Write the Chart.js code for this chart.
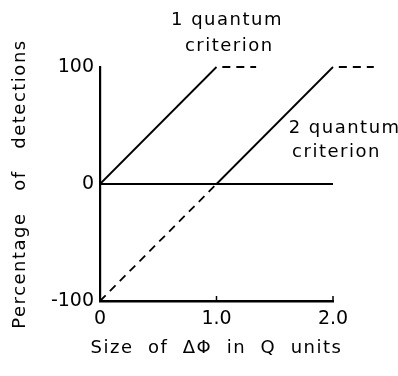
<!DOCTYPE html>
<html>
<head>
<meta charset="utf-8">
<script src="https://cdn.jsdelivr.net/npm/chart.js@4"></script>
<style>
  html, body { margin: 0; padding: 0; background: #fff; }
  #wrap { width: 398px; height: 376px; }
</style>
</head>
<body>
<div id="wrap"><canvas id="chart"></canvas></div>
<script>
// tick values and labels
const xTickValues = [0, 1, 2];
const xTickLabels = ["0", "1.0", "2.0"];
const yTickValues = [-100, 0, 100];
const yTickLabels = ["-100", "0", "100"];

// 1 quantum criterion
const oneRiseX = [0, 1.0];
const oneRiseY = [0, 100];
const onePlateauX = [1.05, 1.34];
const onePlateauY = [100, 100];

// 2 quantum criterion
const twoBelowX = [0, 1.0];
const twoBelowY = [-100, 0];
const twoRiseX = [1.0, 2.0];
const twoRiseY = [0, 100];
const twoPlateauX = [2.05, 2.35];
const twoPlateauY = [100, 100];

// zero line
const zeroX = [0, 2.0];
const zeroY = [0, 0];

// annotation text, anchored in data units
const notes = [
  { text: "1 quantum", x: 1.09, y: 140 },
  { text: "criterion", x: 1.11, y: 118 },
  { text: "2 quantum", x: 2.1, y: 48 },
  { text: "criterion", x: 2.03, y: 27 }
];

const xTitle = "Size  of  \u0394\u03A6  in  Q  units";
const yTitle = "Percentage   of   detections";

function pts(xs, ys) {
  return xs.map((x, i) => ({ x: x, y: ys[i] }));
}

function line(xs, ys, dashed, width) {
  return {
    data: pts(xs, ys),
    borderColor: "#000",
    borderWidth: width || 1.8,
    borderDash: dashed ? [8, 6] : [],
    pointRadius: 0,
    fill: false,
    clip: false,
    tension: 0
  };
}

const FONT = "'DejaVu Sans', sans-serif";

const textPlugin = {
  id: "textPlugin",
  afterDraw(chart) {
    const ctx = chart.ctx;
    const xs = chart.scales.x, ys = chart.scales.y;
    const area = chart.chartArea;
    ctx.save();
    ctx.fillStyle = "#000";
    ctx.strokeStyle = "#000";

    // inward tick marks on the x axis
    ctx.lineWidth = 1.5;
    xTickValues.forEach(v => {
      if (v === 0) return;
      const px = xs.getPixelForValue(v);
      ctx.beginPath();
      ctx.moveTo(px, area.bottom);
      ctx.lineTo(px, area.bottom - 5);
      ctx.stroke();
    });

    ctx.letterSpacing = "1.5px";
    ctx.font = "18px " + FONT;
    ctx.textAlign = "center";
    ctx.textBaseline = "middle";
    notes.forEach(n => {
      ctx.fillText(n.text, xs.getPixelForValue(n.x), ys.getPixelForValue(n.y));
    });

    ctx.letterSpacing = "1.5px";
    ctx.font = "18px " + FONT;
    ctx.fillText(xTitle, (area.left + area.right) / 2, area.bottom + 47);

    ctx.translate(20, (area.top + area.bottom) / 2);
    ctx.rotate(-Math.PI / 2);
    ctx.fillText(yTitle, 0, 0);
    ctx.restore();
  }
};

new Chart(document.getElementById("chart"), {
  type: "line",
  data: {
    datasets: [
      line(oneRiseX, oneRiseY, false),
      line(onePlateauX, onePlateauY, true),
      line(twoBelowX, twoBelowY, true),
      line(twoRiseX, twoRiseY, false),
      line(twoPlateauX, twoPlateauY, true),
      line(zeroX, zeroY, false, 2.2)
    ]
  },
  options: {
    responsive: true,
    maintainAspectRatio: false,
    animation: false,
    layout: { padding: { top: 67, right: 65, bottom: 0, left: 0 } },
    plugins: { legend: { display: false }, tooltip: { enabled: false } },
    scales: {
      x: {
        type: "linear",
        min: 0,
        max: 2,
        afterFit: s => { s.height = 75; },
        afterBuildTicks: s => { s.ticks = xTickValues.map(v => ({ value: v })); },
        grid: { display: false, drawTicks: false },
        border: { display: true, color: "#000", width: 2.5 },
        ticks: {
          color: "#000",
          padding: 7,
          maxRotation: 0,
          font: { family: FONT, size: 19 },
          callback: v => xTickLabels[xTickValues.indexOf(v)]
        }
      },
      y: {
        type: "linear",
        min: -100,
        max: 100,
        afterFit: s => { s.width = 100; },
        afterBuildTicks: s => { s.ticks = yTickValues.map(v => ({ value: v })); },
        grid: { display: false, drawTicks: false },
        border: { display: true, color: "#000", width: 2.2 },
        ticks: {
          color: "#000",
          padding: 6,
          font: { family: FONT, size: 19 },
          callback: v => yTickLabels[yTickValues.indexOf(v)]
        }
      }
    }
  },
  plugins: [textPlugin]
});
</script>
</body>
</html>
